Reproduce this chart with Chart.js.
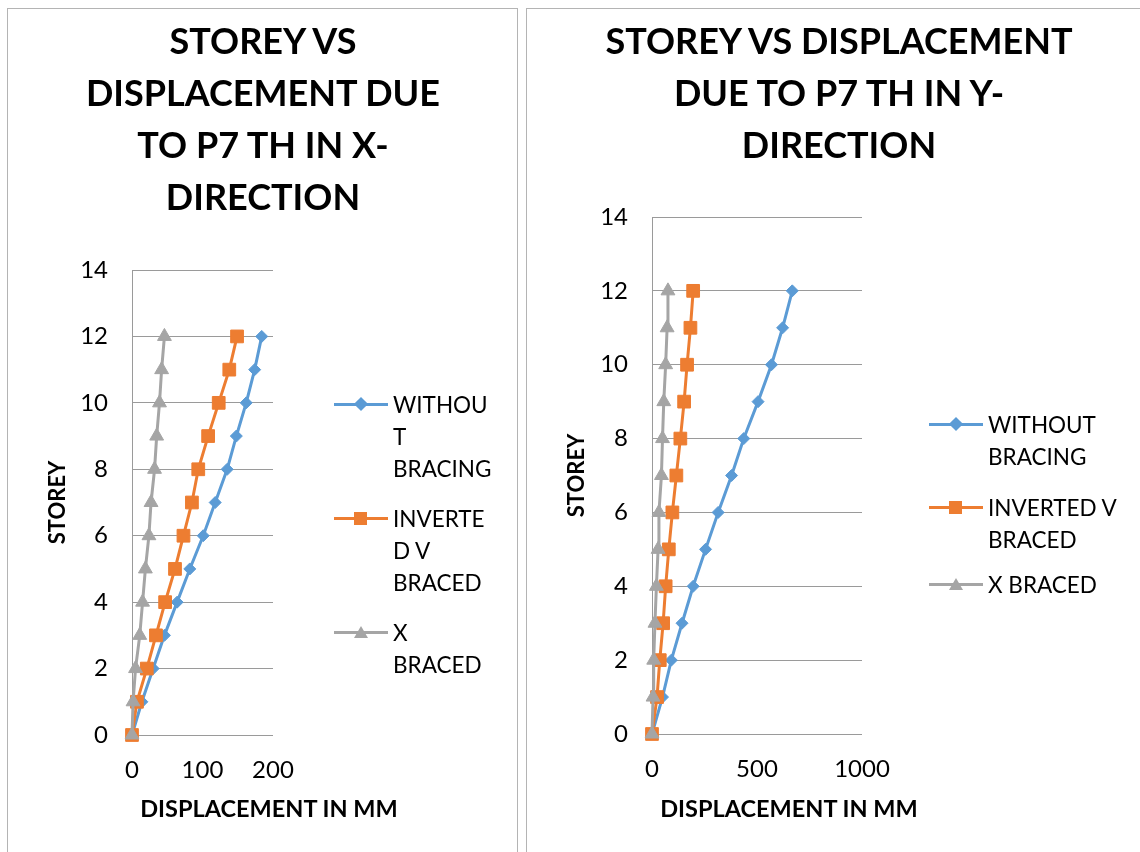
<!DOCTYPE html>
<html>
<head>
<meta charset="utf-8">
<script src="https://cdn.jsdelivr.net/npm/chart.js@4/dist/chart.umd.min.js"></script>
<style>
  body { margin: 0; width: 1140px; height: 852px; background: #fff; overflow: hidden; position: relative; font-family: Lato, "Open Sans", sans-serif; color: #000; }
  .panel { position: absolute; top: 8px; height: 870px; border: 1px solid #b4b4b4; box-sizing: border-box; background: #fff; }
  .panel canvas { position: absolute; left: 0; top: 0; }
  .title { position: absolute; top: 5px; width: 500px; text-align: center; font-weight: 700; font-size: 36px; line-height: 52px; }
  .xtitle { position: absolute; width: 400px; text-align: center; font-weight: 700; font-size: 23.5px; line-height: 30px; }
  .leg { position: absolute; font-size: 22.5px; line-height: 32px; }
  .leg .txt { position: absolute; left: 59px; top: 0; white-space: nowrap; }
  .leg .ln { position: absolute; left: 0; top: 14px; width: 54px; height: 3px; }
  .mk { position: absolute; }
</style>
</head>
<body>
<div class="panel" id="p1" style="left:7px; width:511px;">
  <canvas id="chartX" width="509" height="860"></canvas>
  <div class="title" style="left:5px;">STOREY VS<br>DISPLACEMENT DUE<br>TO P7 TH IN X-<br>DIRECTION</div>
  <div class="xtitle" style="left:61px; top:784px;">DISPLACEMENT IN MM</div>
  <div id="legX"></div>
</div>
<div class="panel" id="p2" style="left:526px; width:700px; border-right:none;">
  <canvas id="chartY" width="614" height="860"></canvas>
  <div class="title" style="left:62px;">STOREY VS DISPLACEMENT<br>DUE TO P7 TH IN Y-<br>DIRECTION</div>
  <div class="xtitle" style="left:62px; top:784px;">DISPLACEMENT IN MM</div>
  <div id="legY"></div>
</div>
<script>
// storey numbers (y values)
const storeys = [0, 1, 2, 3, 4, 5, 6, 7, 8, 9, 10, 11, 12];

// displacement in X direction (mm)
const xWithout  = [0, 14, 30, 46, 64, 82, 101, 118, 135, 148, 162, 174, 184];
const xInverted = [0, 7, 21, 34, 47, 61, 73, 85, 94, 108, 123, 138, 149];
const xBraced   = [0, 1.5, 5, 11, 15, 19, 24, 27, 32, 35, 39, 42, 46];

// displacement in Y direction (mm)
const yWithout  = [0, 50, 92, 143, 196, 255, 315, 379, 437, 505, 569, 622, 668];
const yInverted = [0, 24, 37, 53, 65, 80, 97, 116, 135, 153, 167, 183, 196];
const yBraced   = [0, 5, 8, 14, 21, 29, 33, 45, 50, 56, 65, 72, 76];

const BLUE = '#5b9bd5';
const ORANGE = '#ed7d31';
const GRAY = '#a5a5a5';
const GRID = '#9a9a9a';
const FONT = 'Lato, "Open Sans", sans-serif';

function pts(xs) {
  return xs.map((v, i) => ({ x: v, y: storeys[i] }));
}

function ds(label, xs, color, style, radius, order) {
  return {
    label,
    data: pts(xs),
    showLine: true,
    clip: false,
    borderColor: color,
    backgroundColor: color,
    borderWidth: 3,
    pointStyle: style,
    pointRadius: radius,
    pointHoverRadius: radius,
    pointBorderWidth: 1,
    order
  };
}

// area = chart area inside canvas: left, right, top, bottom
function makeChart(id, series, xMax, xStep, area) {
  const canvas = document.getElementById(id);
  const W = canvas.width, H = canvas.height;
  return new Chart(canvas.getContext('2d'), {
    type: 'scatter',
    data: {
      datasets: [
        ds('WITHOUT BRACING', series[0], BLUE, 'rectRot', 6, 2),
        ds('INVERTED V BRACED', series[1], ORANGE, 'rect', 9, 1),
        ds('X BRACED', series[2], GRAY, 'triangle', 8, 0)
      ]
    },
    options: {
      responsive: false,
      animation: false,
      layout: { padding: { left: 0, top: area.top, right: W - area.right, bottom: 0 } },
      scales: {
        x: {
          type: 'linear',
          min: 0, max: xMax,
          ticks: { stepSize: xStep, padding: 21, color: '#000', font: { family: FONT, size: 24 }, callback: v => String(v) },
          grid: { display: false, drawTicks: false },
          border: { display: false },
          afterFit: s => { s.height = H - area.bottom; }
        },
        y: {
          min: 0, max: 14,
          ticks: { stepSize: 2, padding: 24, color: '#000', font: { family: FONT, size: 24 } },
          grid: { color: GRID, lineWidth: 1, drawTicks: false },
          border: { display: true, color: GRID, width: 1 },
          title: { display: true, text: 'STOREY', color: '#000', padding: { top: 37, bottom: 0 }, font: { family: FONT, size: 22, weight: 'bold' } },
          afterFit: s => { s.width = area.left; }
        }
      },
      plugins: { legend: { display: false }, tooltip: { enabled: false } }
    }
  });
}

function markerHtml(style, color) {
  if (style === 'diamond') {
    return `<div class="mk" style="left:22px;top:10px;width:10px;height:10px;background:${color};transform:rotate(45deg);"></div>`;
  }
  if (style === 'square') {
    return `<div class="mk" style="left:20px;top:9px;width:13px;height:13px;background:${color};"></div>`;
  }
  return `<div class="mk" style="left:20px;top:9px;width:0;height:0;border-left:7px solid transparent;border-right:7px solid transparent;border-bottom:12px solid ${color};"></div>`;
}

function buildLegend(id, left, items) {
  const el = document.getElementById(id);
  el.innerHTML = items.map(it =>
    `<div class="leg" style="left:${left}px;top:${it.top}px;">` +
    `<div class="ln" style="background:${it.color};"></div>` +
    markerHtml(it.style, it.color) +
    `<div class="txt">${it.lines.join('<br>')}</div></div>`
  ).join('');
}

makeChart('chartX', [xWithout, xInverted, xBraced], 200, 100,
  { left: 124, right: 265, top: 261, bottom: 726 });
makeChart('chartY', [yWithout, yInverted, yBraced], 1000, 500,
  { left: 125, right: 335, top: 208, bottom: 725 });

buildLegend('legX', 326, [
  { top: 380, color: BLUE, style: 'diamond', lines: ['WITHOU', 'T', 'BRACING'] },
  { top: 494, color: ORANGE, style: 'square', lines: ['INVERTE', 'D V', 'BRACED'] },
  { top: 608, color: GRAY, style: 'triangle', lines: ['X', 'BRACED'] }
]);
buildLegend('legY', 402, [
  { top: 400, color: BLUE, style: 'diamond', lines: ['WITHOUT', 'BRACING'] },
  { top: 483, color: ORANGE, style: 'square', lines: ['INVERTED V', 'BRACED'] },
  { top: 560, color: GRAY, style: 'triangle', lines: ['X BRACED'] }
]);
</script>
</body>
</html>
